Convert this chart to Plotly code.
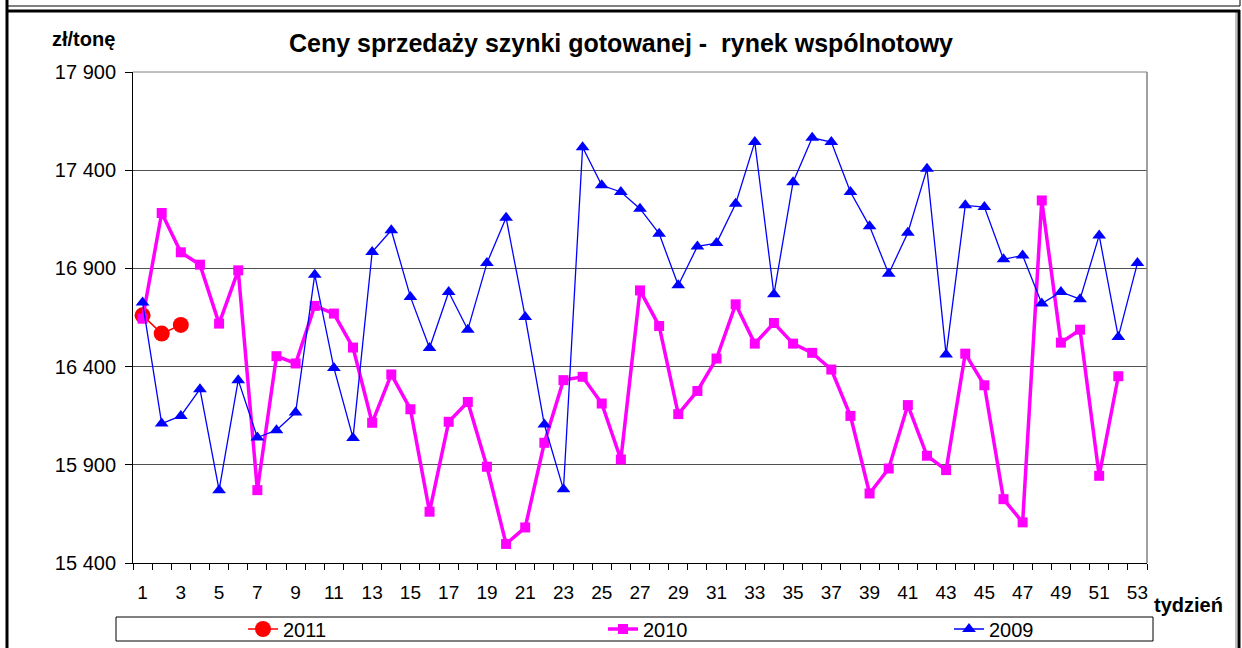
import plotly.graph_objects as go

# ---- data ----
weeks = [1, 2, 3, 4, 5, 6, 7, 8, 9, 10, 11, 12, 13, 14, 15, 16, 17, 18, 19, 20,
         21, 22, 23, 24, 25, 26, 27, 28, 29, 30, 31, 32, 33, 34, 35, 36, 37, 38, 39, 40,
         41, 42, 43, 44, 45, 46, 47, 48, 49, 50, 51, 52, 53]
week_ticks = [1, 3, 5, 7, 9, 11, 13, 15, 17, 19, 21, 23, 25, 27, 29, 31, 33, 35, 37, 39,
              41, 43, 45, 47, 49, 51, 53]

y2011 = [16661, 16568, 16612]

y2010 = [16644, 17182, 16982, 16919, 16619, 16890, 15771, 16453, 16416, 16709,
         16670, 16497, 16114, 16360, 16183, 15661, 16119, 16220, 15890, 15497,
         15581, 16012, 16331, 16348, 16212, 15927, 16788, 16607, 16158, 16276,
         16441, 16717, 16517, 16622, 16517, 16470, 16385, 16149, 15754, 15881,
         16204, 15946, 15873, 16466, 16305, 15725, 15607, 17246, 16522, 16588,
         15844, 16351]

y2009 = [16726, 16110, 16149, 16285, 15771, 16331, 16039, 16076, 16166, 16868,
         16393, 16037, 16983, 17094, 16755, 16495, 16780, 16588, 16927, 17158,
         16653, 16105, 15775, 17517, 17323, 17289, 17204, 17077, 16814, 17012,
         17029, 17229, 17543, 16768, 17339, 17565, 17543, 17289, 17114, 16873,
         17082, 17407, 16461, 17221, 17212, 16946, 16966, 16721, 16780, 16743,
         17068, 16551, 16927]

y_ticks = [15400, 15900, 16400, 16900, 17400, 17900]
y_tick_text = ["15 400", "15 900", "16 400", "16 900", "17 400", "17 900"]

# ---- layout geometry (pixels) ----
W, H = 1242, 648
L, R, T, B = 133, 1147, 72, 563
PW, PH = R - L, B - T


def px(xp):
    return (xp - L) / PW


def py(yp):
    return (B - yp) / PH


FONT = "Liberation Sans, Arial, sans-serif"

fig = go.Figure()

fig.add_trace(go.Scatter(
    x=weeks[:len(y2011)], y=y2011, name="2011", mode="lines+markers",
    line=dict(color="#FF0000", width=1.5),
    marker=dict(symbol="circle", size=16, color="#FF0000"),
    legend="legend",
))
fig.add_trace(go.Scatter(
    x=weeks[:len(y2010)], y=y2010, name="2010", mode="lines+markers",
    line=dict(color="#FF00FF", width=3.5),
    marker=dict(symbol="square", size=10, color="#FF00FF"),
    legend="legend2",
))
fig.add_trace(go.Scatter(
    x=weeks[:len(y2009)], y=y2009, name="2009", mode="lines+markers",
    line=dict(color="#0000FF", width=1.3),
    marker=dict(symbol="triangle-up", size=12, color="#0000FF"),
    legend="legend3",
))

boundaries = [w - 0.5 for w in weeks] + [weeks[-1] + 0.5]

fig.update_xaxes(
    range=[0.5, 53.5], tickmode="array", tickvals=week_ticks,
    ticktext=[str(w) for w in week_ticks], ticks="", showgrid=False,
    zeroline=False, showline=True, linecolor="#000000", linewidth=1,
    tickfont=dict(family=FONT, size=19, color="#000000"),
    ticklabelstandoff=12,
    minor=dict(tickmode="array", tickvals=boundaries, ticks="outside",
               ticklen=6, tickcolor="#000000", tickwidth=1, showgrid=False),
)
fig.update_yaxes(
    range=[15400, 17900], tickmode="array", tickvals=y_ticks,
    ticktext=y_tick_text, ticks="outside", ticklen=7, tickcolor="#000000",
    showgrid=True, gridcolor="#505050", gridwidth=1, zeroline=False,
    showline=True, linecolor="#000000", linewidth=1,
    tickfont=dict(family=FONT, size=20, color="#000000"),
    ticklabelstandoff=5,
)

shapes = [
    # plot area top / right frame (gray)
    dict(type="line", xref="paper", yref="paper", x0=0, x1=1, y0=1, y1=1,
         line=dict(color="#808080", width=1)),
    dict(type="line", xref="paper", yref="paper", x0=1, x1=1, y0=0, y1=1,
         line=dict(color="#808080", width=1.5)),
    # legend box
    dict(type="rect", xref="paper", yref="paper", x0=px(116), x1=px(1153),
         y0=py(641), y1=py(617), line=dict(color="#000000", width=1),
         fillcolor="rgba(0,0,0,0)"),
    # outer frame
    dict(type="line", xref="paper", yref="paper", x0=px(7), x1=px(7),
         y0=py(0), y1=py(660), line=dict(color="#000000", width=3)),
    dict(type="line", xref="paper", yref="paper", x0=px(1239), x1=px(1239),
         y0=py(10), y1=py(660), line=dict(color="#000000", width=3)),
    dict(type="line", xref="paper", yref="paper", x0=px(1236), x1=px(1236),
         y0=py(12), y1=py(660), line=dict(color="#808080", width=1)),
    dict(type="line", xref="paper", yref="paper", x0=px(7), x1=px(1240),
         y0=py(11), y1=py(11), line=dict(color="#000000", width=3)),
    dict(type="line", xref="paper", yref="paper", x0=px(7), x1=px(1240),
         y0=py(6), y1=py(6), line=dict(color="#000000", width=1)),
    dict(type="line", xref="paper", yref="paper", x0=px(1240), x1=px(1240),
         y0=py(0), y1=py(6), line=dict(color="#000000", width=1)),
]

annotations = [
    dict(text="<b>zł/tonę</b>", xref="paper", yref="paper", x=px(83), y=py(39),
         xanchor="center", yanchor="middle", showarrow=False,
         font=dict(family=FONT, size=20, color="#000000")),
    dict(text="<b>tydzień</b>", xref="paper", yref="paper", x=px(1188), y=py(605),
         xanchor="center", yanchor="middle", showarrow=False,
         font=dict(family=FONT, size=20, color="#000000")),
]

leg_common = dict(orientation="h", xanchor="left", y=py(629), yanchor="middle",
                  bgcolor="rgba(0,0,0,0)", borderwidth=0,
                  font=dict(family=FONT, size=20, color="#000000"))

fig.update_layout(
    width=W, height=H, autosize=False,
    margin=dict(l=L, r=W - R, t=T, b=H - B, pad=0, autoexpand=False),
    paper_bgcolor="#FFFFFF", plot_bgcolor="#FFFFFF",
    title=dict(text="<b>Ceny sprzedaży szynki gotowanej -  rynek wspólnotowy</b>",
               x=621 / W, xanchor="center", y=1 - 43 / H, yanchor="middle",
               xref="container", yref="container",
               font=dict(family=FONT, size=25, color="#000000")),
    showlegend=True,
    legend=dict(x=px(243), **leg_common),
    legend2=dict(x=px(603), **leg_common),
    legend3=dict(x=px(949), **leg_common),
    shapes=shapes,
    annotations=annotations,
)

fig.write_html("out.html", config={"displayModeBar": False},
               post_script="document.body.style.margin='0';")
